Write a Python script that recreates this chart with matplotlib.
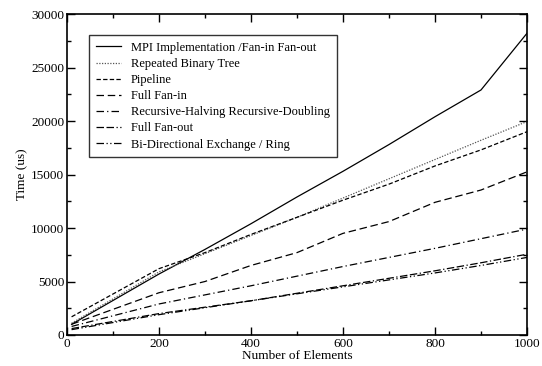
import matplotlib

matplotlib.use("Agg")
import matplotlib.pyplot as plt
from matplotlib.ticker import MultipleLocator

plt.rcParams["font.family"] = ["Liberation Serif", "DejaVu Serif"]

x = [10, 200, 300, 400, 500, 600, 700, 800, 900, 1000]
mpi = [1000, 5700, 8000, 10400, 12900, 15300, 17800, 20400, 22900, 28200]
binary_tree = [1100, 5900, 7600, 9300, 11000, 12800, 14600, 16400, 18200, 19950]
pipeline = [1700, 6200, 7700, 9400, 11000, 12600, 14100, 15800, 17300, 19000]
fan_in = [1000, 3950, 5000, 6500, 7700, 9500, 10600, 12400, 13550, 15250]
rec_halving = [800, 2900, 3750, 4600, 5500, 6400, 7250, 8100, 9000, 9900]
fan_out = [600, 2000, 2600, 3200, 3900, 4600, 5300, 6000, 6750, 7550]
bidir = [500, 1900, 2550, 3200, 3850, 4500, 5150, 5800, 6500, 7250]

series = [
    ("MPI Implementation /Fan-in Fan-out", mpi, "-", "black"),
    ("Repeated Binary Tree", binary_tree, (0, (1, 1.2)), "#555555"),
    ("Pipeline", pipeline, (0, (3.5, 1.8)), "black"),
    ("Full Fan-in", fan_in, (0, (6, 3)), "black"),
    ("Recursive-Halving Recursive-Doubling", rec_halving, (0, (6, 2.5, 1, 2.5)), "black"),
    ("Full Fan-out", fan_out, (0, (6, 2, 6, 2, 1, 2)), "black"),
    ("Bi-Directional Exchange / Ring", bidir, (0, (6, 2, 1, 2, 1, 2)), "black"),
]

fig = plt.figure(figsize=(5.42, 3.66), dpi=100)
ax = fig.add_axes([0.1236, 0.0847, 0.8487, 0.877])
for label, y, ls, c in series:
    ax.plot(x, y, linestyle=ls, color=c, lw=0.9, label=label)

ax.set_xlim(0, 1000)
ax.set_ylim(0, 30000)
ax.xaxis.set_major_locator(MultipleLocator(200))
ax.xaxis.set_minor_locator(MultipleLocator(100))
ax.yaxis.set_major_locator(MultipleLocator(5000))
ax.yaxis.set_minor_locator(MultipleLocator(2500))
ax.tick_params(which="both", direction="in", top=True, right=True, labelsize=9.5, pad=2)
ax.tick_params(which="major", length=6, width=1)
ax.tick_params(which="minor", length=3, width=1)
for s in ax.spines.values():
    s.set_linewidth(1.2)
ax.set_xlabel("Number of Elements", fontsize=9.5, labelpad=0)
ax.set_ylabel("Time (us)", fontsize=9.5, labelpad=2)

leg = ax.legend(loc="upper left", bbox_to_anchor=(0.048, 0.935), fontsize=9,
                frameon=True, fancybox=False, handlelength=2.0, handletextpad=0.8,
                labelspacing=0.33, borderpad=0.55, borderaxespad=0)
leg.get_frame().set_edgecolor("black")
leg.get_frame().set_linewidth(1.0)

fig.savefig("out.png", dpi=100)
